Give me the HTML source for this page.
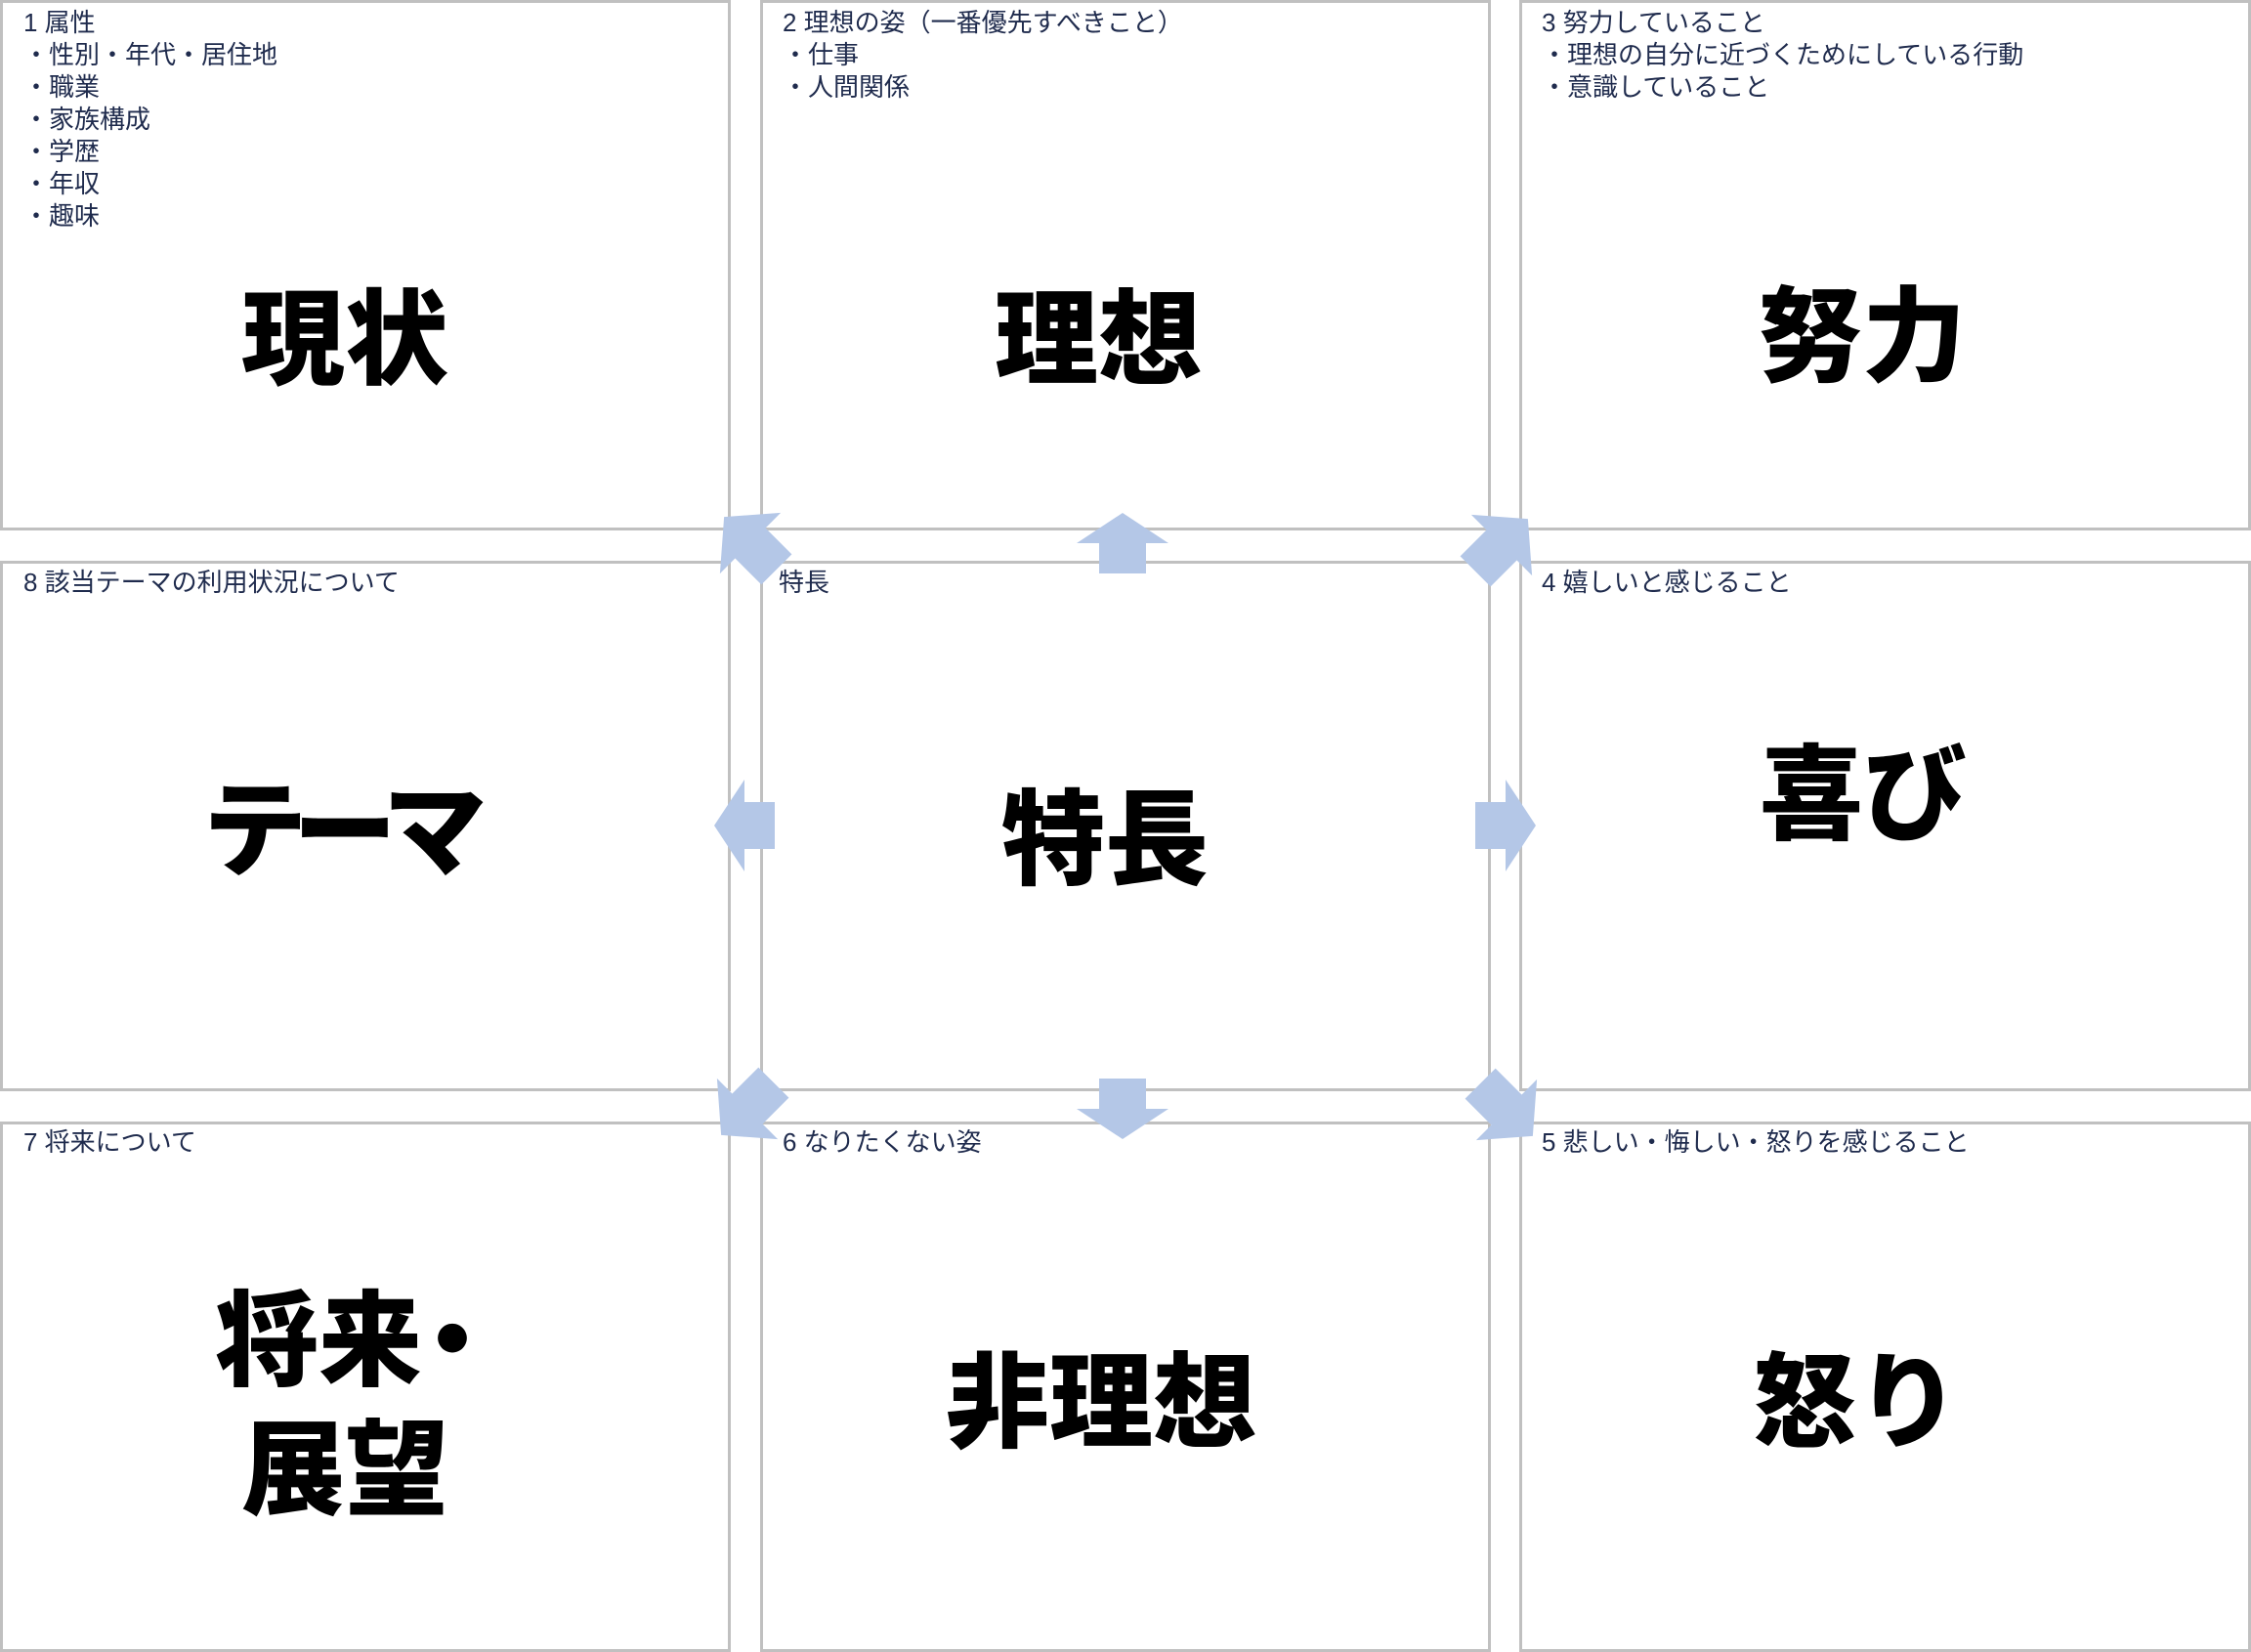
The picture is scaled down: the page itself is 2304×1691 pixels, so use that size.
<!DOCTYPE html>
<html><head><meta charset="utf-8"><style>
html,body{margin:0;padding:0;background:#fff;}
body{width:2304px;height:1691px;position:relative;overflow:hidden;font-family:"Liberation Sans","Noto Sans CJK JP",sans-serif;}
.box{position:absolute;border:3px solid #c0c0c0;box-sizing:border-box;background:#fff;}
.lab{position:absolute;font-size:26px;line-height:33px;color:#1f2b4d;white-space:pre;}
.big{position:absolute;font-family:"Noto Sans CJK JP",sans-serif;font-weight:900;font-size:106px;line-height:128px;color:#000;transform:translate(-50%,-50%);white-space:nowrap;text-align:center;}
svg{position:absolute;left:0;top:0;}
</style></head><body>
<div class="box" style="left:0;top:0;width:748px;height:543px"></div>
<div class="box" style="left:778px;top:0;width:748px;height:543px"></div>
<div class="box" style="left:1555px;top:0;width:749px;height:543px"></div>
<div class="box" style="left:0;top:574px;width:748px;height:543px"></div>
<div class="box" style="left:778px;top:574px;width:748px;height:543px"></div>
<div class="box" style="left:1555px;top:574px;width:749px;height:543px"></div>
<div class="box" style="left:0;top:1148px;width:748px;height:543px"></div>
<div class="box" style="left:778px;top:1148px;width:748px;height:543px"></div>
<div class="box" style="left:1555px;top:1148px;width:749px;height:543px"></div>

<div class="lab" style="left:24px;top:7px">1 属性
・性別・年代・居住地
・職業
・家族構成
・学歴
・年収
・趣味</div>
<div class="lab" style="left:801px;top:7px">2 理想の姿（一番優先すべきこと）
・仕事
・人間関係</div>
<div class="lab" style="left:1578px;top:7px">3 努力していること
・理想の自分に近づくためにしている行動
・意識していること</div>
<div class="lab" style="left:24px;top:580px">8 該当テーマの利用状況について</div>
<div class="lab" style="left:797px;top:580px">特長</div>
<div class="lab" style="left:1578px;top:580px">4 嬉しいと感じること</div>
<div class="lab" style="left:24px;top:1153px">7 将来について</div>
<div class="lab" style="left:801px;top:1153px">6 なりたくない姿</div>
<div class="lab" style="left:1578px;top:1153px">5 悲しい・悔しい・怒りを感じること</div>

<div class="big" style="left:353px;top:339px">現状</div>
<div class="big" style="left:1124px;top:339px">理想</div>
<div class="big" style="left:1906px;top:336px">努力</div>
<div class="big" style="left:353px;top:842px;letter-spacing:-14px;padding-right:14px">テーマ</div>
<div class="big" style="left:1131px;top:851px">特長</div>
<div class="big" style="left:1907px;top:805px">喜び</div>
<div class="big" style="left:353px;top:1430px;line-height:132px">将来<span style="margin-left:-22px;margin-right:-30px">・</span><br>展望</div>
<div class="big" style="left:1127px;top:1427px">非理想</div>
<div class="big" style="left:1900px;top:1427px">怒り</div>

<svg width="2304" height="1691" viewBox="0 0 2304 1691">
<defs>
<polygon id="ar" points="0,-31 47,0 24,0 24,31 -24,31 -24,0 -47,0" fill="#b4c7e7"/>
<polygon id="ard" points="0,-38 44,0 22,0 22,38 -22,38 -22,0 -44,0" fill="#b4c7e7"/>
</defs>
<use href="#ar" transform="translate(1149,556)"/>
<use href="#ar" transform="translate(1149,1135) rotate(180)"/>
<use href="#ar" transform="translate(762,845) rotate(-90)"/>
<use href="#ar" transform="translate(1541,845) rotate(90)"/>
<use href="#ard" transform="translate(768,556) rotate(-45)"/>
<use href="#ard" transform="translate(1537,558) rotate(45)"/>
<use href="#ard" transform="translate(765,1135) rotate(-135)"/>
<use href="#ard" transform="translate(1542,1136) rotate(135)"/>
</svg>
</body></html>
